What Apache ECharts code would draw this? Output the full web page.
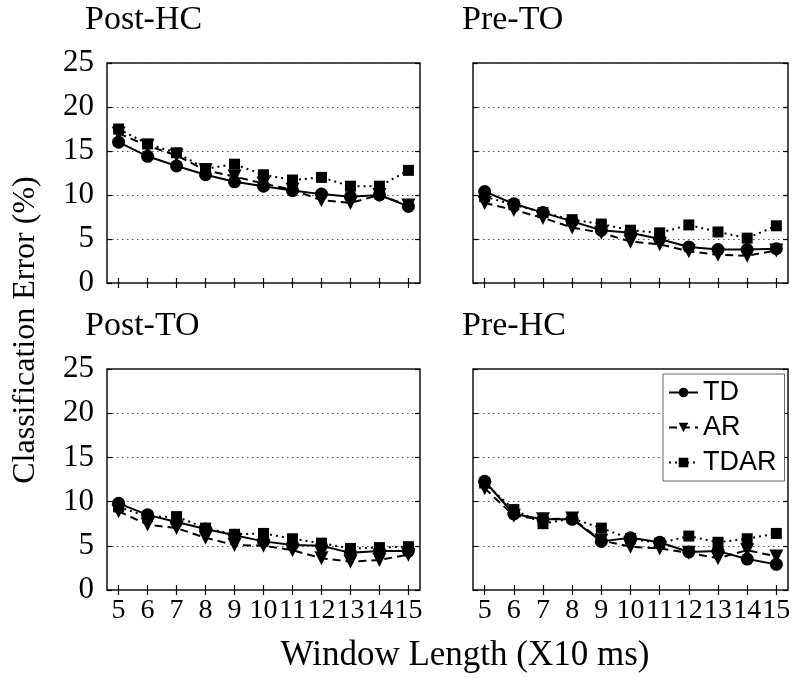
<!DOCTYPE html>
<html>
<head>
<meta charset="utf-8">
<script src="https://cdn.jsdelivr.net/npm/echarts@6/dist/echarts.min.js"></script>
<style>
  html, body { margin: 0; padding: 0; background: #fff; }
  #chart { width: 800px; height: 684px; }
</style>
</head>
<body>
<div id="chart"></div>
<script>
// window length (x10 ms)
const windowLengths = [5, 6, 7, 8, 9, 10, 11, 12, 13, 14, 15];
const yTicks = [0, 5, 10, 15, 20, 25];

const panelTitles = ['Post-HC', 'Pre-TO', 'Post-TO', 'Pre-HC'];

// classification error (%) per panel
const postHC_TD = [16.0, 14.4, 13.3, 12.3, 11.5, 11.0, 10.5, 10.1, 9.8, 10.0, 8.7];
const postHC_AR = [17.0, 15.6, 14.5, 12.8, 12.1, 11.3, 10.6, 9.4, 9.1, 10.0, 8.8];
const postHC_TDAR = [17.5, 15.8, 14.8, 13.0, 13.5, 12.3, 11.7, 12.0, 11.0, 11.0, 12.8];

const preTO_TD = [10.4, 9.0, 8.0, 7.0, 6.0, 5.7, 5.0, 4.1, 3.8, 3.8, 3.9];
const preTO_AR = [9.1, 8.3, 7.4, 6.3, 5.7, 4.7, 4.4, 3.6, 3.2, 3.1, 3.7];
const preTO_TDAR = [9.8, 8.9, 8.0, 7.2, 6.7, 6.0, 5.7, 6.6, 5.8, 5.1, 6.5];

const postTO_TD = [9.8, 8.5, 7.7, 6.9, 6.2, 5.5, 5.1, 5.0, 4.2, 4.4, 4.4];
const postTO_AR = [8.9, 7.4, 7.0, 5.9, 5.1, 5.0, 4.5, 3.6, 3.2, 3.4, 4.0];
const postTO_TDAR = [9.4, 8.3, 8.3, 7.0, 6.3, 6.4, 5.8, 5.3, 4.7, 4.8, 4.9];

const preHC_TD = [12.3, 8.6, 8.0, 8.0, 5.5, 5.9, 5.4, 4.3, 4.4, 3.5, 2.9];
const preHC_AR = [11.5, 8.4, 8.0, 8.1, 5.6, 4.9, 4.7, 4.2, 3.6, 4.5, 3.8];
const preHC_TDAR = [12.1, 9.1, 7.5, 8.1, 7.0, 5.8, 5.3, 6.1, 5.4, 5.8, 6.4];

const panelData = [
  [postHC_TD, postHC_AR, postHC_TDAR],
  [preTO_TD, preTO_AR, preTO_TDAR],
  [postTO_TD, postTO_AR, postTO_TDAR],
  [preHC_TD, preHC_AR, preHC_TDAR],
];

const SERIF = 'Liberation Serif';
const gridBoxes = [
  { left: 107, top: 63, width: 313, height: 220 },
  { left: 473, top: 63, width: 315, height: 220 },
  { left: 107, top: 369, width: 313, height: 221 },
  { left: 473, top: 369, width: 315, height: 221 },
];

// 三种方法的线型与标记
const methodStyles = [
  { name: 'TD', symbol: 'circle', symbolSize: 13, dash: 'solid' },
  { name: 'AR', symbol: 'path://M0,0 L10,0 L5,9 Z', symbolSize: 14, dash: [8, 5] },
  { name: 'TDAR', symbol: 'rect', symbolSize: 11, dash: [2, 4] },
];

function toPoints(values) {
  return values.map((v, i) => [windowLengths[i], v]);
}

const xAxes = [];
const yAxes = [];
const series = [];

gridBoxes.forEach((box, i) => {
  const bottomRow = i >= 2;
  const leftCol = i % 2 === 0;
  // bottom x axis
  xAxes.push({
    type: 'value', gridIndex: i, position: 'bottom', min: 4.6, max: 15.4,
    axisLine: { show: false },
    axisTick: { show: true, inside: true, length: 5, customValues: windowLengths, lineStyle: { color: '#000', width: 1.2 } },
    axisLabel: {
      show: bottomRow, customValues: windowLengths, margin: 7,
      fontFamily: SERIF, fontSize: 28, color: '#000',
    },
    splitLine: { show: false },
  });
  // top x axis, ticks only
  xAxes.push({
    type: 'value', gridIndex: i, position: 'top', min: 4.6, max: 15.4,
    axisLine: { show: false },
    axisTick: { show: true, inside: true, length: 5, customValues: windowLengths, lineStyle: { color: '#000', width: 1.2 } },
    axisLabel: { show: false },
    splitLine: { show: false },
  });
  yAxes.push({
    type: 'value', gridIndex: i, position: 'left', min: 0, max: 25, interval: 5,
    axisLine: { show: false },
    axisTick: { show: true, inside: true, length: 5, lineStyle: { color: '#000', width: 1.2 } },
    axisLabel: { show: leftCol, margin: 13, fontFamily: SERIF, fontSize: 31, color: '#000' },
    splitLine: { show: true, lineStyle: { color: '#555', width: 1, type: [1.5, 3.5] } },
  });
  yAxes.push({
    type: 'value', gridIndex: i, position: 'right', min: 0, max: 25, interval: 5,
    axisLine: { show: false },
    axisTick: { show: true, inside: true, length: 5, lineStyle: { color: '#000', width: 1.2 } },
    axisLabel: { show: false },
    splitLine: { show: false },
  });

  methodStyles.forEach((m, k) => {
    series.push({
      name: m.name,
      type: 'line',
      xAxisIndex: i * 2,
      yAxisIndex: i * 2,
      data: toPoints(panelData[i][k]),
      symbol: m.symbol,
      symbolSize: m.symbolSize,
      showAllSymbol: true,
      itemStyle: { color: '#000' },
      lineStyle: { color: '#000', width: 2, type: m.dash },
      emphasis: { disabled: true },
      animation: false,
    });
  });
});

const titleTops = [3, 3, 309, 309];
const titleLefts = [85, 462, 85, 462];

const option = {
  backgroundColor: '#fff',
  animation: false,
  title: panelTitles.map((t, i) => ({
    text: t, left: titleLefts[i], top: titleTops[i], padding: 0,
    textStyle: { fontFamily: SERIF, fontSize: 34, fontWeight: 'normal', color: '#000' },
  })),
  grid: gridBoxes.map(b => ({ ...b, show: true, borderColor: '#111', borderWidth: 1.5, containLabel: false })),
  xAxis: xAxes,
  yAxis: yAxes,
  legend: {
    orient: 'vertical', left: 663, top: 374,
    data: ['TD', 'AR', 'TDAR'],
    backgroundColor: '#fff', borderColor: '#666', borderWidth: 1,
    padding: [5, 8, 5, 5], itemWidth: 29, itemHeight: 12, itemGap: 8,
    textStyle: { fontFamily: 'Liberation Sans', fontSize: 27, color: '#000' },
  },
  graphic: [
    {
      type: 'text', x: 26, y: 330, rotation: Math.PI / 2,
      style: { text: 'Classification Error (%)', font: '32px "Liberation Serif"', fill: '#000', align: 'center', verticalAlign: 'middle' },
    },
    {
      type: 'text', x: 465, y: 656,
      style: { text: 'Window Length (X10 ms)', font: '35px "Liberation Serif"', fill: '#000', align: 'center', verticalAlign: 'middle' },
    },
  ],
  series: series,
};

const chart = echarts.init(document.getElementById('chart'));
chart.setOption(option);
</script>
</body>
</html>
